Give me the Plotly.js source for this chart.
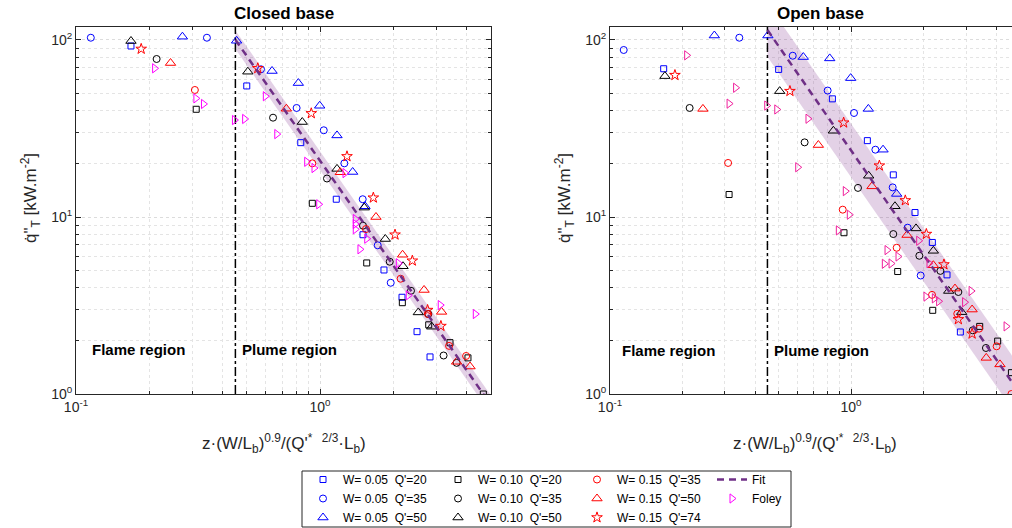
<!DOCTYPE html>
<html>
<head>
<meta charset="utf-8">
<script src="https://cdn.plot.ly/plotly-3.0.1.min.js"></script>
<style>
  html, body { margin: 0; padding: 0; background: #ffffff; }
  #chart { width: 1012px; height: 528px; }
</style>
</head>
<body>
<div id="chart"></div>
<script>
// ---------- Closed base ----------
const cbW05Q20X = [0.168, 0.501, 0.834, 1.166, 1.50, 1.829, 2.168, 2.498, 2.824];
const cbW05Q20Y = [92.5, 55.0, 26.3, 12.6, 7.94, 5.02, 3.52, 2.25, 1.62];
const cbW05Q35X = [0.115, 0.344, 0.573, 0.802, 1.036, 1.258, 1.496, 1.724, 1.949];
const cbW05Q35Y = [103, 103, 68.3, 41.3, 30.9, 20.1, 12.6, 6.92, 4.25];
const cbW05Q50X = [0.273, 0.455, 0.636, 0.815, 0.997, 1.174, 1.361, 1.529];
const cbW05Q50Y = [104.4, 99, 66.8, 57.1, 42.5, 28.9, 17.96, 11.5];
const cbW10Q20X = [0.311, 0.930, 1.554, 2.175, 2.79, 3.41, 4.04, 4.67];
const cbW10Q20Y = [40.6, 11.95, 5.50, 3.28, 2.46, 1.95, 1.60, 1.0];
const cbW10Q35X = [0.214, 0.642, 1.068, 1.50, 1.931, 2.36, 2.78, 3.21, 3.63];
const cbW10Q35Y = [78.1, 36.4, 16.5, 8.93, 5.59, 3.83, 2.83, 1.65, 1.50];
const cbW10Q50X = [0.168, 0.506, 0.846, 1.174, 1.519, 1.852, 2.189, 2.529, 2.87];
const cbW10Q50Y = [98.7, 66.2, 34.4, 18.7, 11.3, 7.51, 5.27, 2.89, 2.40];
const cbW15Q35X = [0.307, 0.930, 1.543, 2.14, 2.77, 3.38, 3.97];
const cbW15Q35Y = [52.2, 20.1, 8.55, 4.48, 2.83, 1.87, 1.64];
const cbW15Q50X = [0.244, 0.728, 1.211, 1.696, 2.18, 2.67, 3.15, 3.63, 4.12];
const cbW15Q50Y = [74.1, 40.9, 17.9, 10.0, 6.12, 3.87, 2.91, 1.52, 1.43];
const cbW15Q74X = [0.185, 0.556, 0.921, 1.29, 1.654, 2.03, 2.39, 2.76, 3.13];
const cbW15Q74Y = [89.0, 69.2, 38.5, 22.0, 12.85, 7.94, 5.66, 2.98, 2.42];
const cbFoleyX = [0.210, 0.310, 0.333, 0.446, 0.491, 0.597, 0.665, 0.882, 0.945, 1.266,
                  0.988, 1.395, 1.395, 1.395, 1.554, 1.458, 2.094, 2.30, 3.11, 4.33];
const cbFoleyY = [69.2, 46.8, 43.5, 35.3, 35.8, 48.1, 29.4, 20.5, 18.9, 17.7,
                  11.8, 9.74, 9.13, 8.52, 7.54, 6.57, 5.48, 3.61, 3.18, 2.83];

// ---------- Open base ----------
const obW05Q20X = [0.167, 0.501, 0.837, 1.169, 1.498, 1.843, 2.175, 2.502, 2.843];
const obW05Q20Y = [68.8, 68.2, 46.5, 27.0, 17.3, 10.6, 7.18, 4.71, 2.24];
const obW05Q35X = [0.114, 0.344, 0.573, 0.800, 1.029, 1.262, 1.489, 1.718, 1.946];
const obW05Q35Y = [87.8, 103, 81.5, 51.8, 38.7, 24.0, 14.7, 8.70, 4.67];
const obW05Q50X = [0.271, 0.452, 0.634, 0.816, 0.997, 1.18, 1.358, 1.547];
const obW05Q50Y = [106, 106, 80.1, 78.7, 60.9, 40.8, 24.0, 13.5];
const obW10Q20X = [0.312, 0.935, 1.562, 2.183, 3.42, 4.06, 4.63];
const obW10Q20Y = [13.4, 8.15, 4.92, 2.97, 2.41, 1.99, 1.32];
const obW10Q35X = [0.214, 0.642, 1.069, 1.498, 1.921, 2.349, 2.789, 3.20, 3.63];
const obW10Q35Y = [41.3, 26.4, 14.6, 8.01, 6.04, 4.96, 3.77, 2.29, 1.82];
const obW10Q50X = [0.169, 0.506, 0.845, 1.184, 1.522, 1.861, 2.196, 2.543, 2.879];
const obW10Q50Y = [62.5, 51.4, 30.7, 17.1, 11.5, 8.62, 6.44, 3.82, 2.90];
const obW15Q35X = [0.309, 0.924, 1.547, 2.168, 2.76, 3.40, 4.02, 4.63];
const obW15Q35Y = [20.2, 11.0, 6.70, 3.63, 2.84, 2.34, 1.86, 1.0];
const obW15Q50X = [0.243, 0.732, 1.222, 1.708, 2.196, 2.70, 3.18, 3.64, 4.15];
const obW15Q50Y = [40.8, 25.5, 14.9, 7.91, 5.34, 3.94, 3.00, 1.60, 1.47];
const obW15Q74X = [0.186, 0.558, 0.932, 1.311, 1.68, 2.054, 2.43, 2.789, 3.18];
const obW15Q74Y = [63.3, 51.4, 34.1, 19.5, 12.4, 8.01, 5.39, 2.64, 2.19];
const obFoleyX = [0.208, 0.332, 0.312, 0.447, 0.492, 0.663, 0.601, 0.947, 0.984, 0.886, 1.411,
                  1.567, 1.375, 1.466, 1.909, 2.107, 2.047, 2.217, 2.31, 2.96, 3.15, 4.40];
const obFoleyY = [81.9, 53.7, 43.7, 42.6, 40.5, 35.9, 19.1, 14.0, 10.3, 8.40, 6.50,
                  5.98, 5.44, 5.46, 7.34, 5.48, 3.55, 3.47, 3.34, 3.30, 3.82, 2.41];

// ---------- Power-law fits (end points) and their bands ----------
const fitX = [0.45, 5];
const cbFitY = [100.3, 0.873];
const cbBandHi = [113.3, 0.987];
const cbBandLo = [88.8, 0.773];
const obFitY = [113.8, 1.015];
const obBandHi = [161.1, 1.437];
const obBandLo = [80.4, 0.717];

// flame / plume boundary
const boundaryX = [0.45, 0.45];
const boundaryY = [1, 120];

// ---------- Axis ticks ----------
const decadeVals = [0.1, 1, 10, 100];
const decadeText = ['10<sup>-1</sup>', '10<sup>0</sup>', '10<sup>1</sup>', '10<sup>2</sup>'];
const minorVals = [0.2, 0.3, 0.4, 0.5, 0.6, 0.7, 0.8, 0.9,
                   2, 3, 4, 5, 6, 7, 8, 9,
                   20, 30, 40, 50, 60, 70, 80, 90];

const FONT = 'Liberation Sans, Arial, Helvetica, sans-serif';
const AX = '#262626';
const BLUE = '#0000ff', BLACK = '#000000', RED = '#ff0000';
const MAGENTA = '#ff00ff', PINK = '#f0209c';
const PURPLE = '#6f2f86';
const BAND = 'rgba(126,47,142,0.22)';

function pts(x, y, xa, ya, symbol, color, size, name, legend, show) {
  return {
    type: 'scatter', mode: 'markers', x: x, y: y, xaxis: xa, yaxis: ya,
    name: name, legend: legend, showlegend: show, hoverinfo: 'skip',
    marker: { symbol: symbol, size: size, color: color, line: { color: color, width: 1 } }
  };
}

function band(lo, hi, xa, ya) {
  return {
    type: 'scatter', mode: 'lines', xaxis: xa, yaxis: ya, showlegend: false, hoverinfo: 'skip',
    x: [fitX[0], fitX[1], fitX[1], fitX[0]],
    y: [hi[0], hi[1], lo[1], lo[0]],
    fill: 'toself', fillcolor: BAND, line: { width: 0 }
  };
}

function fitLine(y, xa, ya, show) {
  return {
    type: 'scatter', mode: 'lines', x: fitX, y: y, xaxis: xa, yaxis: ya,
    name: 'Fit', legend: 'legend4', showlegend: show, hoverinfo: 'skip',
    line: { color: PURPLE, width: 2.5, dash: '7px,5px' }
  };
}

function boundary(xa, ya) {
  return {
    type: 'scatter', mode: 'lines', x: boundaryX, y: boundaryY, xaxis: xa, yaxis: ya,
    showlegend: false, hoverinfo: 'skip',
    line: { color: '#000000', width: 1.5, dash: 'dashdot' }
  };
}

const lbl = (w, q) => 'W= ' + w + '\u00a0\u00a0Q\'=' + q;

const traces = [
  band(cbBandLo, cbBandHi, 'x', 'y'),
  band(obBandLo, obBandHi, 'x2', 'y2'),
  boundary('x', 'y'),
  boundary('x2', 'y2'),

  // closed base (these also feed the legends)
  pts(cbW05Q20X, cbW05Q20Y, 'x', 'y', 'square-open', BLUE, 6, lbl('0.05', 20), 'legend', true),
  pts(cbW05Q35X, cbW05Q35Y, 'x', 'y', 'circle-open', BLUE, 7, lbl('0.05', 35), 'legend', true),
  pts(cbW05Q50X, cbW05Q50Y, 'x', 'y', 'triangle-up-open', BLUE, 9, lbl('0.05', 50), 'legend', true),
  pts(cbW10Q20X, cbW10Q20Y, 'x', 'y', 'square-open', BLACK, 6, lbl('0.10', 20), 'legend2', true),
  pts(cbW10Q35X, cbW10Q35Y, 'x', 'y', 'circle-open', BLACK, 7, lbl('0.10', 35), 'legend2', true),
  pts(cbW10Q50X, cbW10Q50Y, 'x', 'y', 'triangle-up-open', BLACK, 9, lbl('0.10', 50), 'legend2', true),
  pts(cbW15Q35X, cbW15Q35Y, 'x', 'y', 'circle-open', RED, 7, lbl('0.15', 35), 'legend3', true),
  pts(cbW15Q50X, cbW15Q50Y, 'x', 'y', 'triangle-up-open', RED, 9, lbl('0.15', 50), 'legend3', true),
  pts(cbW15Q74X, cbW15Q74Y, 'x', 'y', 'star-open', RED, 8, lbl('0.15', 74), 'legend3', true),
  fitLine(cbFitY, 'x', 'y', true),
  pts(cbFoleyX, cbFoleyY, 'x', 'y', 'triangle-right-open', MAGENTA, 8, 'Foley', 'legend4', true),

  // open base
  pts(obW05Q20X, obW05Q20Y, 'x2', 'y2', 'square-open', BLUE, 6, lbl('0.05', 20), 'legend', false),
  pts(obW05Q35X, obW05Q35Y, 'x2', 'y2', 'circle-open', BLUE, 7, lbl('0.05', 35), 'legend', false),
  pts(obW05Q50X, obW05Q50Y, 'x2', 'y2', 'triangle-up-open', BLUE, 9, lbl('0.05', 50), 'legend', false),
  pts(obW10Q20X, obW10Q20Y, 'x2', 'y2', 'square-open', BLACK, 6, lbl('0.10', 20), 'legend2', false),
  pts(obW10Q35X, obW10Q35Y, 'x2', 'y2', 'circle-open', BLACK, 7, lbl('0.10', 35), 'legend2', false),
  pts(obW10Q50X, obW10Q50Y, 'x2', 'y2', 'triangle-up-open', BLACK, 9, lbl('0.10', 50), 'legend2', false),
  pts(obW15Q35X, obW15Q35Y, 'x2', 'y2', 'circle-open', RED, 7, lbl('0.15', 35), 'legend3', false),
  pts(obW15Q50X, obW15Q50Y, 'x2', 'y2', 'triangle-up-open', RED, 9, lbl('0.15', 50), 'legend3', false),
  pts(obW15Q74X, obW15Q74Y, 'x2', 'y2', 'star-open', RED, 8, lbl('0.15', 74), 'legend3', false),
  fitLine(obFitY, 'x2', 'y2', false),
  pts(obFoleyX, obFoleyY, 'x2', 'y2', 'triangle-right-open', PINK, 8, 'Foley', 'legend4', false)
];

const W = 1012, H = 528;
const px = v => v / W;          // horizontal pixel -> paper
const py = v => 1 - v / H;      // vertical pixel -> paper

function logAxis(range, domain, anchor, mirror) {
  return {
    type: 'log', range: range, domain: domain, anchor: anchor,
    tickmode: 'array', tickvals: decadeVals, ticktext: decadeText,
    ticks: 'inside', ticklen: 5, tickwidth: 1, tickcolor: AX,
    showline: true, linecolor: AX, linewidth: 1, mirror: mirror,
    showgrid: true, gridcolor: '#dcdcdc', griddash: 'dot', gridwidth: 1,
    zeroline: false, fixedrange: true,
    minor: {
      tickmode: 'array', tickvals: minorVals, ticks: 'inside', ticklen: 3,
      tickcolor: AX, showgrid: true, gridcolor: '#e4e4e4', griddash: 'dot', gridwidth: 1
    },
    tickfont: { family: FONT, size: 14, color: AX }
  };
}

const yDom = [py(394), py(27)];
const legendBase = {
  orientation: 'v', xanchor: 'left', yanchor: 'top', y: py(465),
  bgcolor: 'rgba(0,0,0,0)', borderwidth: 0,
  font: { family: FONT, size: 12, color: '#000000' },
  itemclick: false, itemdoubleclick: false
};

const yTitle = 'q\u0307"<sub>T</sub> [kW.m<sup>-2</sup>]';
const xTitle = 'z·(W/L<sub>b</sub>)<sup>0.9</sup>/(Q\'<sup>*</sup>\u00a0\u00a0<sup>2/3</sup>·L<sub>b</sub>)';

function note(text, x, y, opts) {
  return Object.assign({
    text: text, x: x, y: y, xref: 'paper', yref: 'paper', showarrow: false,
    xanchor: 'center', yanchor: 'middle',
    font: { family: FONT, size: 17, color: AX }
  }, opts || {});
}

const boldFont = { family: FONT, size: 15, color: '#000000' };

const layout = {
  width: W, height: H,
  margin: { l: 0, r: 0, t: 0, b: 0, autoexpand: false },
  paper_bgcolor: '#ffffff', plot_bgcolor: '#ffffff',
  showlegend: true,
  xaxis: logAxis([-1, 0.7008], [px(76), px(491)], 'y', 'allticks'),
  yaxis: logAxis([0, 2.0734], yDom, 'x', 'allticks'),
  xaxis2: logAxis([-1, 0.668], [px(610), 1], 'y2', 'allticks'),
  yaxis2: logAxis([0, 2.0734], yDom, 'x2', false),
  legend: Object.assign({}, legendBase, { x: px(303) }),
  legend2: Object.assign({}, legendBase, { x: px(438) }),
  legend3: Object.assign({}, legendBase, { x: px(577) }),
  legend4: Object.assign({}, legendBase, { x: px(712) }),
  shapes: [{
    type: 'rect', xref: 'paper', yref: 'paper',
    x0: px(302), x1: px(791), y0: py(527), y1: py(471),
    line: { color: '#262626', width: 1 }, fillcolor: 'rgba(0,0,0,0)'
  }],
  annotations: [
    note('<b>Closed base</b>', px(283.5), py(13), { font: { family: FONT, size: 17, color: '#000000' } }),
    note('<b>Open base</b>', px(820), py(13), { font: { family: FONT, size: 17, color: '#000000' } }),
    note(yTitle, px(30), py(198), { textangle: -90 }),
    note(yTitle, px(564), py(198), { textangle: -90 }),
    note(xTitle, px(283.5), py(443)),
    note(xTitle, px(815), py(443)),
    note('<b>Flame region</b>', px(90), py(349.5), { xanchor: 'left', font: boldFont }),
    note('<b>Plume region</b>', px(240), py(349.5), { xanchor: 'left', font: boldFont }),
    note('<b>Flame region</b>', px(620), py(350), { xanchor: 'left', font: boldFont }),
    note('<b>Plume region</b>', px(772), py(350), { xanchor: 'left', font: boldFont })
  ]
};

Plotly.newPlot('chart', traces, layout, { staticPlot: true, displayModeBar: false });
</script>
</body>
</html>
